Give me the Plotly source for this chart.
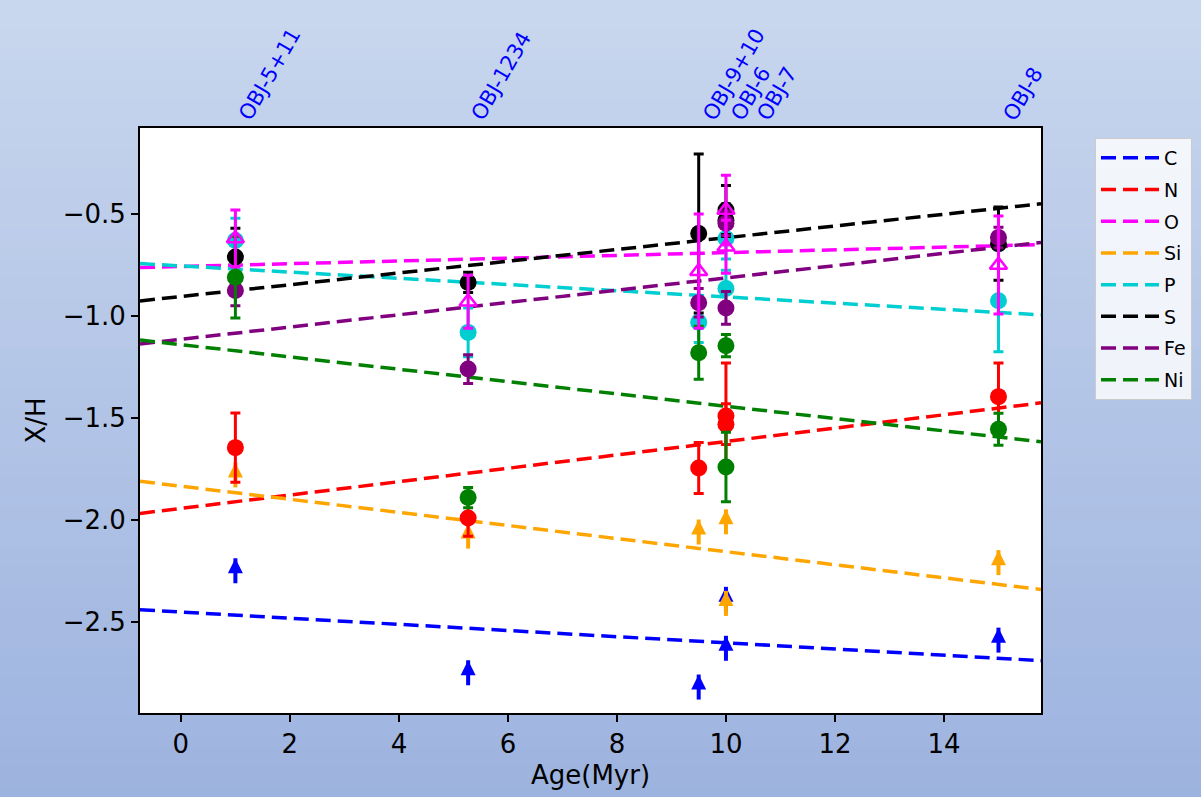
import numpy as np
import plotly.graph_objects as go

# ---------------------------------------------------------------- data
OBJECTS = ["OBJ-5+11", "OBJ-1234", "OBJ-9+10", "OBJ-6", "OBJ-7", "OBJ-8"]
AGES = [1.0, 5.27, 9.5, 10.0, 10.0, 15.0]
# positions of the object names along the top axis (spread apart where crowded)
LABEL_AGES = [1.0, 5.27, 9.52, 10.02, 10.5, 15.02]

ELEMENTS = ["C", "N", "O", "Si", "P", "S", "Fe", "Ni"]
COLORS = ["#0000ff", "#ff0000", "#ff00ff", "#ffa500",
          "#00ced1", "#000000", "#800080", "#008000"]

# abundances [X/H] and 1-sigma errors, one entry per object
N_VAL = [-1.645, -1.99, -1.745, -1.49, -1.53, -1.395]
N_ERR = [0.17, 0.09, 0.125, 0.26, 0.10, 0.165]
O_VAL = [-0.62, -0.93, -0.78, -0.48, -0.66, -0.75]
O_ERR = [0.14, 0.13, 0.28, 0.17, 0.13, 0.24]
P_VAL = [-0.63, -1.08, -1.03, -0.62, -0.865, -0.925]
P_ERR = [0.11, 0.12, 0.10, 0.10, 0.09, 0.25]
S_VAL = [-0.71, -0.835, -0.595, -0.48, -0.53, -0.645]
S_ERR = [0.14, 0.05, 0.39, 0.12, 0.08, 0.18]
FE_VAL = [-0.875, -1.26, -0.935, -0.545, -0.96, -0.615]
FE_ERR = [0.075, 0.07, 0.07, 0.06, 0.08, 0.05]
NI_VAL = [-0.81, -1.89, -1.18, -1.145, -1.74, -1.555]
NI_ERR = [0.20, 0.05, 0.13, 0.055, 0.17, 0.078]

# lower limits
C_LOLIM = [-2.31, -2.81, -2.88, -2.45, -2.69, -2.65]
SI_LOLIM = [-1.84, -2.14, -2.12, -2.07, -2.47, -2.27]

# linear trends: slope (dex / Myr) and value at age 0
FIT_SLOPE = [-0.0151, 0.0328, 0.0068, -0.0321, -0.0152, 0.0288, 0.0301, -0.0302]
FIT_ZERO = [-2.451, -1.943, -0.757, -1.834, -0.754, -0.904, -1.114, -1.140]

X_RANGE = [-0.75, 15.78]
Y_RANGE = [-2.946, -0.078]
ARROW_LEN = 0.1225          # length of a lower-limit arrow in dex

FONT = "DejaVu Sans"
W, H = 1201, 797
ML, MR, MT, MB = 140, 160, 128, 84

col = dict(zip(ELEMENTS, COLORS))
fig = go.Figure()

# ---------------------------------------------------------------- trend lines
xl = np.array(X_RANGE)
for el, c, m, b in zip(ELEMENTS, COLORS, FIT_SLOPE, FIT_ZERO):
    fig.add_trace(go.Scatter(
        x=xl, y=m * xl + b, mode="lines", name=el,
        legendgroup=el,
        line=dict(color=c, width=3.5, dash="15px,7px"),
        hoverinfo="skip"))


# ---------------------------------------------------------------- lower limits
def add_limits(vals, color):
    tips = [v + ARROW_LEN for v in vals]
    fig.add_trace(go.Scatter(
        x=AGES, y=tips, mode="markers", showlegend=False,
        marker=dict(symbol="arrow-up", size=15, color=color,
                    line=dict(width=0)),
        error_y=dict(type="data", symmetric=False,
                     array=[0] * len(vals), arrayminus=[ARROW_LEN] * len(vals),
                     color=color, thickness=4, width=0)))


add_limits(C_LOLIM, col["C"])
add_limits(SI_LOLIM, col["Si"])


# ---------------------------------------------------------------- measurements
def add_points(vals, errs, color, symbol="circle", open_=False):
    if open_:
        marker = dict(symbol=symbol, size=15, color=color,
                      line=dict(color=color, width=2.5))
    else:
        marker = dict(symbol=symbol, size=17, color=color, line=dict(width=0))
    fig.add_trace(go.Scatter(
        x=AGES, y=vals, mode="markers", showlegend=False, marker=marker,
        error_y=dict(type="data", array=errs, color=color,
                     thickness=3, width=5)))


add_points(N_VAL, N_ERR, col["N"])
add_points(P_VAL, P_ERR, col["P"])
add_points(S_VAL, S_ERR, col["S"])
add_points(FE_VAL, FE_ERR, col["Fe"])
add_points(NI_VAL, NI_ERR, col["Ni"])
add_points(O_VAL, O_ERR, col["O"], symbol="triangle-up-open", open_=True)

# ---------------------------------------------------------------- background
shapes = []
top_c = np.array([201, 215, 238])
bot_c = np.array([157, 179, 223])
pw, ph = W - ML - MR, H - MT - MB
y_hi = 1 + MT / ph
y_lo = -MB / ph
nb = 80
for i in range(nb):
    t = (i + 0.5) / nb
    c = top_c + (bot_c - top_c) * t
    y1 = y_hi - (y_hi - y_lo) * i / nb
    y0 = y_hi - (y_hi - y_lo) * (i + 1) / nb
    shapes.append(dict(type="rect", xref="paper", yref="paper",
                       x0=-ML / pw - 0.05, x1=1 + MR / pw + 0.05,
                       y0=y0 - 0.002, y1=y1 + 0.002,
                       fillcolor="rgb(%d,%d,%d)" % tuple(c.round()),
                       line=dict(width=0), layer="below"))
shapes.append(dict(type="rect", xref="paper", yref="paper",
                   x0=0, x1=1, y0=0, y1=1, fillcolor="white",
                   line=dict(width=0), layer="below"))

# ---------------------------------------------------------------- object names on top
annotations = []
for name, a in zip(OBJECTS, LABEL_AGES):
    annotations.append(dict(
        x=a, y=1, xref="x", yref="paper", text=name, showarrow=False,
        textangle=-60, xanchor="left", yanchor="bottom",
        xshift=-4, yshift=1,
        font=dict(family=FONT, size=21, color="#0000ff")))

axis_common = dict(
    showline=True, linecolor="black", linewidth=2, mirror=True,
    ticks="outside", ticklen=7, tickwidth=1.5, tickcolor="black",
    showgrid=False, zeroline=False,
    tickfont=dict(family=FONT, size=26, color="black"))

fig.update_layout(
    width=W, height=H,
    margin=dict(l=ML, r=MR, t=MT, b=MB),
    paper_bgcolor="rgb(157,179,223)",
    plot_bgcolor="rgba(0,0,0,0)",
    shapes=shapes,
    annotations=annotations,
    xaxis=dict(range=X_RANGE, tick0=0, dtick=2,
               title=dict(text="Age(Myr)", standoff=8,
                          font=dict(family=FONT, size=26, color="black")),
               **axis_common),
    yaxis=dict(range=Y_RANGE, tickvals=[-2.5, -2.0, -1.5, -1.0, -0.5],
               tickformat=".1f",
               title=dict(text="X/H", standoff=10,
                          font=dict(family=FONT, size=26, color="black")),
               **axis_common),
    legend=dict(xref="container", yref="container",
                x=1095 / W, y=1 - 138 / H,
                xanchor="left", yanchor="top",
                bgcolor="rgba(255,255,255,0.8)", bordercolor="#cccccc",
                borderwidth=1, tracegroupgap=4, itemwidth=58,
                font=dict(family=FONT, size=19, color="black")),
    showlegend=True,
)

fig.write_html("out.html")
